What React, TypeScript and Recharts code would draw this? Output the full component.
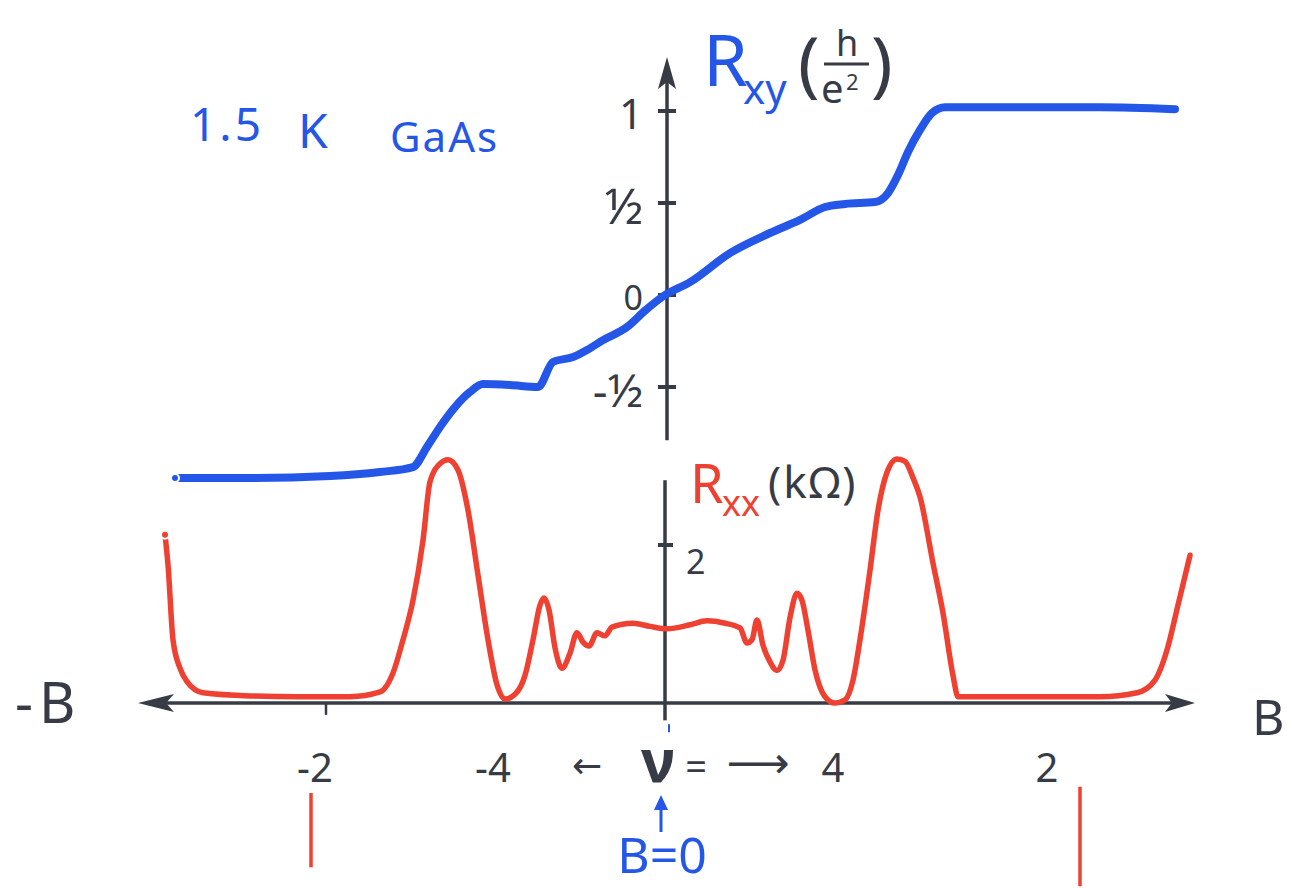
import React from "react";
import {
  ComposedChart,
  Line,
  XAxis,
  YAxis,
  ReferenceLine,
  ReferenceDot,
} from "recharts";

const INK = "#373b46";
const BLUE = "#2456e8";
const RED = "#ee4132";
const FONT = "'Noto Sans', 'DejaVu Sans', sans-serif";

// Hall resistance R_xy (h/e²) against field B (sketch units, B = 0 at the axis)
const rxyTrace: [number, number][] = [
  [-4.9, -0.995], [-4.15, -0.995], [-3.35, -0.984], [-2.85, -0.962],
  [-2.52, -0.935], [-2.38, -0.826], [-2.25, -0.717], [-2.1, -0.609],
  [-1.95, -0.527], [-1.82, -0.484], [-1.55, -0.489], [-1.27, -0.5],
  [-1.12, -0.364], [-0.92, -0.337], [-0.78, -0.299], [-0.62, -0.245],
  [-0.38, -0.174], [-0.2, -0.085], [0, 0], [0.25, 0.07], [0.65, 0.228],
  [1.05, 0.337], [1.35, 0.408], [1.6, 0.478], [1.8, 0.495], [2.1, 0.505],
  [2.23, 0.554], [2.33, 0.652], [2.43, 0.777], [2.55, 0.897], [2.67, 0.989],
  [2.8, 1.02], [3.35, 1.02], [4.35, 1.02], [5.1, 1.01],
];

// Longitudinal resistance R_xx (kΩ) against the same field
const rxxTrace: [number, number][] = [
  [-5.0, 2.13], [-4.97, 1.75], [-4.92, 0.8], [-4.85, 0.44], [-4.78, 0.27],
  [-4.62, 0.13], [-4.15, 0.09], [-3.65, 0.08], [-3.15, 0.08], [-2.85, 0.14],
  [-2.72, 0.38], [-2.62, 0.8], [-2.52, 1.3], [-2.42, 2.06], [-2.35, 2.8],
  [-2.25, 3.03], [-2.17, 3.08], [-2.07, 2.95], [-1.97, 2.44], [-1.87, 1.62],
  [-1.77, 0.8], [-1.68, 0.23], [-1.6, 0.05], [-1.5, 0.11], [-1.4, 0.35],
  [-1.32, 0.8], [-1.25, 1.24], [-1.21, 1.33], [-1.16, 1.18], [-1.1, 0.7],
  [-1.03, 0.44], [-0.95, 0.63], [-0.88, 0.89], [-0.82, 0.77], [-0.76, 0.72],
  [-0.68, 0.89], [-0.6, 0.85], [-0.53, 0.96], [-0.32, 1.01], [-0.15, 0.97],
  [0.02, 0.94], [0.25, 0.99], [0.42, 1.04], [0.6, 1.01], [0.75, 0.95],
  [0.82, 0.76], [0.87, 0.8], [0.92, 1.05], [0.98, 0.73], [1.05, 0.52],
  [1.12, 0.41], [1.18, 0.54], [1.25, 1.08], [1.32, 1.39], [1.37, 1.3],
  [1.43, 0.92], [1.5, 0.42], [1.6, 0.08], [1.7, 0.0], [1.8, 0.04],
  [1.88, 0.29], [1.95, 0.8], [2.05, 1.68], [2.13, 2.44], [2.22, 2.92],
  [2.32, 3.09], [2.4, 3.06], [2.48, 2.85], [2.55, 2.61], [2.68, 1.77],
  [2.78, 1.14], [2.88, 0.35], [2.93, 0.08], [3.35, 0.08], [4.35, 0.08],
  [4.72, 0.13], [4.9, 0.29], [5.02, 0.67], [5.13, 1.24], [5.25, 1.87],
];

const rxyTicks = [1, 0.5, 0, -0.5];
const rxyTickLabels = ["1", "½", "0", "-½"];
const rxxTicks = [2];
const rxxTickLabels = ["2"];
// filling factor ν marked under the field axis
const nuAt = [-3.5, -1.72, 1.68, 3.82];
const nuLabels = ["-2", "-4", "4", "2"];
const fieldTickAt = [-3.39];
const nuTwoMarks = [
  [-3.54, -1.14, -2.08],
  [4.15, -1.06, -2.32],
];

const rxyData = rxyTrace.map(([b, v]) => ({ b, v }));
const rxxData = rxxTrace.map(([b, v]) => ({ b, v }));

// render arbitrary svg at a reference point
const at = (draw: (x: number, y: number) => React.ReactElement) => (p: any) =>
  draw(p.cx, p.cy);

const tickFont = (s: string) =>
  s === "½" ? 50 : s === "0" ? 34 : s === "-½" ? 46 : 42;

export default function App() {
  return (
    <div
      style={{
        position: "absolute",
        left: 0,
        top: 0,
        width: 1290,
        height: 888,
        background: "#fff",
      }}
    >
      <ComposedChart
        width={1290}
        height={888}
        margin={{ top: 0, right: 0, bottom: 0, left: 0 }}
      >
        <XAxis
          type="number"
          dataKey="b"
          domain={[-6.65, 6.25]}
          allowDataOverflow
          hide
        />
        <YAxis
          yAxisId="rxy"
          type="number"
          domain={[-3.2228, 1.6033]}
          allowDataOverflow
          hide
        />
        <YAxis
          yAxisId="rxx"
          type="number"
          domain={[-2.342, 8.899]}
          allowDataOverflow
          hide
        />

        {/* field axis with arrows both ways */}
        <ReferenceLine
          yAxisId="rxx"
          segment={[{ x: -5.12, y: 0 }, { x: 5.12, y: 0 }]}
          stroke={INK}
          strokeWidth={3.5}
        />
        <ReferenceDot
          yAxisId="rxx"
          x={-5.27}
          y={0}
          shape={at((x, y) => (
            <polygon
              points={`${x},${y} ${x + 36},${y - 9} ${x + 28},${y} ${x + 36},${y + 9}`}
              fill={INK}
            />
          ))}
        />
        <ReferenceDot
          yAxisId="rxx"
          x={5.3}
          y={0}
          shape={at((x, y) => (
            <polygon
              points={`${x},${y} ${x - 30},${y - 9} ${x - 23},${y} ${x - 30},${y + 9}`}
              fill={INK}
            />
          ))}
        />
        {fieldTickAt.map((b) => (
          <ReferenceLine
            key={b}
            yAxisId="rxx"
            segment={[{ x: b, y: 0 }, { x: b, y: -0.15 }]}
            stroke={INK}
            strokeWidth={2.5}
          />
        ))}

        {/* R_xy axis */}
        <ReferenceLine
          yAxisId="rxy"
          segment={[{ x: 0.02, y: 1.2 }, { x: 0.02, y: -0.79 }]}
          stroke={INK}
          strokeWidth={3.5}
        />
        <ReferenceDot
          yAxisId="rxy"
          x={0.02}
          y={1.293}
          shape={at((x, y) => (
            <polygon
              points={`${x},${y} ${x - 9},${y + 32} ${x},${y + 25} ${x + 9},${y + 32}`}
              fill={INK}
            />
          ))}
        />
        {rxyTicks.map((v) => (
          <ReferenceLine
            key={`t${v}`}
            yAxisId="rxy"
            segment={[{ x: -0.07, y: v }, { x: 0.11, y: v }]}
            stroke={INK}
            strokeWidth={4}
          />
        ))}
        {rxyTicks.map((v, i) => (
          <ReferenceDot
            key={`l${v}`}
            yAxisId="rxy"
            x={0.02}
            y={v}
            shape={at((x, y) => {
              const fs = tickFont(rxyTickLabels[i]);
              return (
                <text
                  x={x - 24}
                  y={y + fs * 0.36 + 3}
                  fill={INK}
                  fontFamily={FONT}
                  fontSize={fs}
                  textAnchor="end"
                >
                  {rxyTickLabels[i]}
                </text>
              );
            })}
          />
        ))}

        {/* R_xx axis */}
        <ReferenceLine
          yAxisId="rxx"
          segment={[{ x: 0, y: 2.82 }, { x: 0, y: -0.22 }]}
          stroke={INK}
          strokeWidth={3.5}
        />
        <ReferenceLine
          yAxisId="rxx"
          segment={[{ x: 0.04, y: -0.27 }, { x: 0.04, y: -0.37 }]}
          stroke={BLUE}
          strokeWidth={2}
        />
        {rxxTicks.map((v, i) => (
          <React.Fragment key={`x${v}`}>
            <ReferenceLine
              yAxisId="rxx"
              segment={[{ x: -0.07, y: v }, { x: 0.08, y: v }]}
              stroke={INK}
              strokeWidth={4}
            />
            <ReferenceDot
              yAxisId="rxx"
              x={0}
              y={v}
              shape={at((x, y) => (
                <text
                  x={x + 21}
                  y={y + 29}
                  fill={INK}
                  fontFamily={FONT}
                  fontSize={34}
                >
                  {rxxTickLabels[i]}
                </text>
              ))}
            />
          </React.Fragment>
        ))}

        {/* traces */}
        <Line
          data={rxxData}
          dataKey="v"
          yAxisId="rxx"
          type="monotone"
          stroke={RED}
          strokeWidth={5.5}
          strokeLinecap="round"
          strokeLinejoin="round"
          dot={false}
          isAnimationActive={false}
        />
        <Line
          data={rxyData}
          dataKey="v"
          yAxisId="rxy"
          type="monotone"
          stroke={BLUE}
          strokeWidth={8}
          strokeLinecap="round"
          strokeLinejoin="round"
          dot={false}
          isAnimationActive={false}
        />

        {/* sample annotation */}
        <ReferenceDot
          yAxisId="rxy"
          x={-4.75}
          y={0.837}
          shape={at((x, y) => (
            <g fill={BLUE} fontFamily={FONT}>
              <text x={x} y={y} fontSize={46} letterSpacing={3}>
                1.5
              </text>
              <text x={x + 108} y={y + 7} fontSize={48}>
                K
              </text>
              <text x={x + 200} y={y + 11} fontSize={42} letterSpacing={2}>
                GaAs
              </text>
            </g>
          ))}
        />

        {/* R_xy (h/e²) title */}
        <ReferenceDot
          yAxisId="rxy"
          x={0.38}
          y={1.136}
          shape={at((x, y) => (
            <g fontFamily={FONT}>
              <text x={x} y={y} fontSize={72} fill={BLUE}>
                R
              </text>
              <text x={x + 40} y={y + 18} fontSize={42} fill={BLUE}>
                xy
              </text>
              <text x={x + 95} y={y + 3} fontSize={72} fill={INK}>
                (
              </text>
              <text
                x={x + 144}
                y={y - 30}
                fontSize={36}
                fill={INK}
                textAnchor="middle"
              >
                h
              </text>
              <line
                x1={x + 121}
                x2={x + 166}
                y1={y - 22}
                y2={y - 22}
                stroke={INK}
                strokeWidth={3}
              />
              <text x={x + 118} y={y + 17} fontSize={40} fill={INK}>
                e
              </text>
              <text x={x + 143} y={y + 4} fontSize={22} fill={INK}>
                2
              </text>
              <text x={x + 168} y={y + 3} fontSize={72} fill={INK}>
                )
              </text>
            </g>
          ))}
        />

        {/* R_xx (kΩ) title */}
        <ReferenceDot
          yAxisId="rxx"
          x={0.25}
          y={2.53}
          shape={at((x, y) => (
            <g fontFamily={FONT}>
              <text x={x} y={y} fontSize={54} fill={RED}>
                R
              </text>
              <text x={x + 32} y={y + 13} fontSize={36} fill={RED}>
                xx
              </text>
              <text
                x={x + 78}
                y={y - 5}
                fontSize={44}
                fill={INK}
                letterSpacing={2}
              >
                (kΩ)
              </text>
            </g>
          ))}
        />

        {/* axis names */}
        <ReferenceDot
          yAxisId="rxx"
          x={-6.5}
          y={-0.25}
          shape={at((x, y) => (
            <text
              x={x}
              y={y}
              fill={INK}
              fontFamily={FONT}
              fontSize={56}
              letterSpacing={6}
            >
              -B
            </text>
          ))}
        />
        <ReferenceDot
          yAxisId="rxx"
          x={5.87}
          y={-0.405}
          shape={at((x, y) => (
            <text x={x} y={y} fill={INK} fontFamily={FONT} fontSize={50}>
              B
            </text>
          ))}
        />

        {/* filling factors */}
        {nuAt.map((b, i) => (
          <ReferenceDot
            key={`nu${b}`}
            yAxisId="rxx"
            x={b}
            y={-1.0}
            shape={at((x, y) => (
              <text
                x={x}
                y={y}
                fill={INK}
                fontFamily={FONT}
                fontSize={40}
                textAnchor="middle"
              >
                {nuLabels[i]}
              </text>
            ))}
          />
        ))}
        <ReferenceDot
          yAxisId="rxx"
          x={0}
          y={-1.0}
          shape={at((x, y) => (
            <g fontFamily={FONT} textAnchor="middle">
              <text x={x - 78} y={y - 4} fill={INK} fontSize={36}>
                ←
              </text>
              <text x={x - 7} y={y} fill={INK} fontSize={60} fontWeight={700}>
                ν
              </text>
              <text x={x + 31} y={y - 2} fill={INK} fontSize={38}>
                =
              </text>
              <text
                x={x + 93}
                y={y - 4}
                fill={INK}
                fontSize={44}
                fontFamily="'DejaVu Sans', sans-serif"
              >
                ⟶
              </text>
              <line
                x1={x - 4}
                x2={x - 4}
                y1={y + 50}
                y2={y + 20}
                stroke={BLUE}
                strokeWidth={3}
              />
              <polygon
                points={`${x - 4},${y + 13} ${x - 11},${y + 28} ${x + 3},${y + 28}`}
                fill={BLUE}
              />
              <text x={x - 3} y={y + 91} fill={BLUE} fontSize={50}>
                B=0
              </text>
            </g>
          ))}
        />
        {nuTwoMarks.map(([b, y1, y2]) => (
          <ReferenceLine
            key={`m${b}`}
            yAxisId="rxx"
            segment={[{ x: b, y: y1 }, { x: b, y: y2 }]}
            stroke={RED}
            strokeWidth={3.5}
          />
        ))}
      </ComposedChart>
    </div>
  );
}
